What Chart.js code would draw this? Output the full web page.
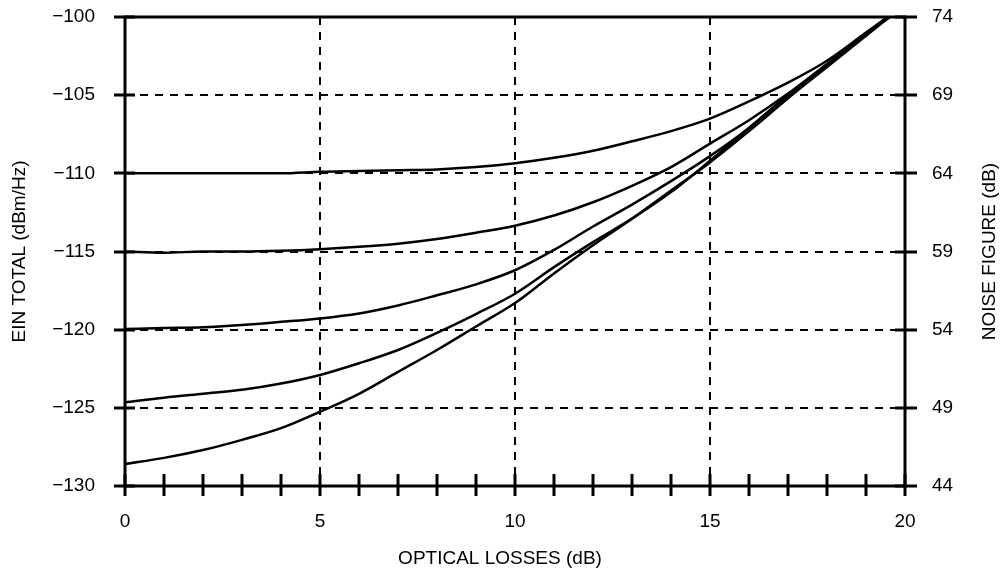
<!DOCTYPE html>
<html>
<head>
<meta charset="utf-8">
<style>
  html, body { margin: 0; padding: 0; background: #fff; }
  #wrap { width: 1005px; height: 572px; }
</style>
<script src="https://cdn.jsdelivr.net/npm/chart.js@4.4.1/dist/chart.umd.min.js"></script>
</head>
<body>
<div id="wrap"><canvas id="chart" width="1005" height="572"></canvas></div>
<script>
// optical losses (dB) along the bottom
const lossDb = [0, 1, 2, 3, 4, 5, 6, 7, 8, 9, 10, 11, 12, 13, 14, 15, 16, 17, 18, 19, 20];

// EIN total (dBm/Hz), one curve per starting noise level
const einA = [-110, -110, -110, -110, -110, -109.9, -109.85, -109.8, -109.75, -109.6, -109.35,
              -109.0, -108.55, -107.95, -107.3, -106.5, -105.4, -104.2, -102.8, -101.0, -99.2];
const einB = [-115, -115.08, -115, -115, -114.95, -114.85, -114.7, -114.5, -114.2, -113.8, -113.35,
              -112.7, -111.85, -110.8, -109.6, -108.1, -106.6, -104.9, -103.0, -101.1, -99.3];
const einC = [-119.96, -119.9, -119.85, -119.7, -119.5, -119.28, -118.96, -118.45, -117.8, -117.1, -116.2,
              -114.9, -113.4, -112.0, -110.5, -108.9, -107.1, -105.0, -103.1, -101.1, -99.3];
const einD = [-124.65, -124.35, -124.1, -123.85, -123.45, -122.9, -122.15, -121.3, -120.2, -119.0, -117.7,
              -116.0, -114.4, -112.9, -111.2, -109.2, -107.1, -105.0, -103.1, -101.1, -99.1];
const einE = [-128.6, -128.2, -127.7, -127.05, -126.3, -125.25, -124.1, -122.7, -121.3, -119.8, -118.3,
              -116.4, -114.6, -112.9, -111.1, -109.3, -107.3, -105.2, -103.2, -101.2, -99.2];

const curves = [einA, einB, einC, einD, einE];

// axis ranges / tick spacing
const xRange = [0, 20];
const einRange = [-130, -100];
const nfRange = [44, 74];
const majorStep = 5;
const minorStep = 1;

const FONT = "'Liberation Sans', Arial, Helvetica, sans-serif";
const fontPx = 19;

const minus = v => String(v).replace('-', '\u2212');

// frame, cross ticks and axis titles
const framePlugin = {
  id: 'frame',
  afterDraw(chart) {
    const { ctx, chartArea: a, scales } = chart;
    const xs = scales.x, ys = scales.y;
    ctx.save();
    ctx.strokeStyle = '#000';
    ctx.lineWidth = 3;
    ctx.lineCap = 'butt';
    ctx.strokeRect(a.left, a.top, a.right - a.left, a.bottom - a.top);

    ctx.beginPath();
    for (let v = einRange[0]; v <= einRange[1]; v += majorStep) {
      const y = Math.round(ys.getPixelForValue(v));
      ctx.moveTo(a.left - 11, y); ctx.lineTo(a.left + 10, y);
      ctx.moveTo(a.right - 10, y); ctx.lineTo(a.right + 12, y);
    }
    for (let v = xRange[0]; v <= xRange[1]; v += minorStep) {
      const x = Math.round(xs.getPixelForValue(v));
      ctx.moveTo(x, a.bottom - 12); ctx.lineTo(x, a.bottom + 10);
    }
    ctx.stroke();

    ctx.fillStyle = '#000';
    ctx.font = fontPx + 'px ' + FONT;
    ctx.textAlign = 'center';
    ctx.textBaseline = 'middle';
    const midY = (a.top + a.bottom) / 2;

    ctx.save();
    ctx.translate(20, midY);
    ctx.rotate(-Math.PI / 2);
    ctx.fillText('EIN TOTAL (dBm/Hz)', 0, 0);
    ctx.restore();

    ctx.save();
    ctx.translate(990, midY);
    ctx.rotate(-Math.PI / 2);
    ctx.fillText('NOISE FIGURE (dB)', 0, 0);
    ctx.restore();

    ctx.fillText('OPTICAL LOSSES (dB)', 500, 559);
    ctx.restore();
  }
};

const hideEdges = (lo, hi) => c =>
  (c.tick && (c.tick.value === lo || c.tick.value === hi)) ? 'rgba(0,0,0,0)' : '#000';

const clear = 'rgba(0,0,0,0)';

new Chart(document.getElementById('chart'), {
  type: 'line',
  data: {
    datasets: curves.map(ys => ({
      data: lossDb.map((x, i) => ({ x, y: ys[i] })),
      borderColor: '#000',
      borderWidth: 2.5,
      pointRadius: 0,
      fill: false,
      cubicInterpolationMode: 'monotone'
    }))
  },
  options: {
    responsive: false,
    maintainAspectRatio: false,
    animation: false,
    layout: { padding: { top: 17, left: 0, right: 0, bottom: 0 } },
    plugins: { legend: { display: false }, tooltip: { enabled: false } },
    scales: {
      x: {
        type: 'linear',
        min: xRange[0], max: xRange[1],
        afterFit: s => { s.height = 86; },
        ticks: { stepSize: majorStep, padding: 0, color: '#000', font: { family: FONT, size: fontPx } },
        grid: { color: hideEdges(xRange[0], xRange[1]), lineWidth: 2, tickLength: 24, tickColor: clear },
        border: { display: false, dash: [8, 7] }
      },
      y: {
        position: 'left',
        min: einRange[0], max: einRange[1],
        afterFit: s => { s.width = 125; },
        ticks: { stepSize: majorStep, padding: 0, color: '#000', font: { family: FONT, size: fontPx }, callback: minus },
        grid: { color: hideEdges(einRange[0], einRange[1]), lineWidth: 2, tickLength: 30, tickColor: clear },
        border: { display: false, dash: [8, 7] }
      },
      y2: {
        position: 'right',
        min: nfRange[0], max: nfRange[1],
        afterFit: s => { s.width = 100; },
        ticks: { stepSize: majorStep, padding: 0, color: '#000', font: { family: FONT, size: fontPx } },
        grid: { drawOnChartArea: false, tickLength: 27, tickColor: clear },
        border: { display: false }
      }
    }
  },
  plugins: [framePlugin]
});
</script>
</body>
</html>
